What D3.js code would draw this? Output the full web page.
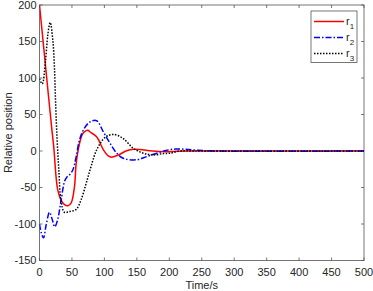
<!DOCTYPE html>
<html>
<head>
<meta charset="utf-8">
<script src="https://cdn.jsdelivr.net/npm/d3@7"></script>
<style>
  body { margin: 0; background: #fff; }
  text { font-family: "Liberation Sans", Arial, sans-serif; fill: #262626; }
</style>
</head>
<body>
<div id="chart"></div>
<script>
// Values
const r1Time = [0, 5, 10, 15, 19, 22, 25.7, 28, 33, 38.5, 43.7, 48.8, 54, 56.5, 61.6, 66.7, 72, 74.5, 78, 88, 98.5, 106, 111, 121.6, 134.4, 144.6, 155, 170, 196, 230, 300, 500];
const r1Value = [200, 155, 110, 65, 30, 5, -37, -53, -67, -73.5, -75, -71, -48, -17, 10, 24, 28, 28.5, 26, 19.5, 1.5, -6.8, -8.6, -5.4, 0.4, 2.3, 2, 0.4, -0.9, 0, 0, 0];

const r2Time = [0, 3, 6.2, 10.3, 15.4, 20, 23.5, 28, 33, 38.5, 42, 46, 51.3, 56.5, 61.6, 69, 78, 88, 98.5, 108.8, 119, 129, 150, 165, 180.6, 196, 210, 225, 245, 270, 500];
const r2Value = [-100, -113, -119, -101, -84, -95, -104, -94, -69, -42, -36, -33, -26, -8, 15, 31, 40, 41.5, 26, 10.5, -3, -10, -12, -7.7, -3, 1, 2.7, 2.3, 1, 0, 0];

const r3Time = [0, 4.2, 9.3, 12.9, 16.5, 20.6, 23, 24.7, 27, 29.8, 33, 38.5, 46, 56.5, 64, 72, 79.5, 88, 101, 114, 129, 144.6, 160, 175, 191, 201, 216, 240, 500];
const r3Value = [99, 92, 124, 160, 176, 151, 115, 69, 18, -26, -67, -84, -83, -80, -67, -44, -21, 1.4, 18.6, 22.7, 17, 3.6, -3, -5.4, -3.5, -3, 0, 0, 0];

const xTicks = [0, 50, 100, 150, 200, 250, 300, 350, 400, 450, 500];
const yTicks = [-150, -100, -50, 0, 50, 100, 150, 200];
const seriesNames = ["1", "2", "3"];

const width = 373, height = 291;
const margin = { top: 5, right: 9, bottom: 30.5, left: 39.5 };
const plotW = width - margin.left - margin.right;
const plotH = height - margin.top - margin.bottom;

const svg = d3.select("#chart").append("svg")
  .attr("width", width)
  .attr("height", height);

const g = svg.append("g")
  .attr("transform", `translate(${margin.left},${margin.top})`);

const x = d3.scaleLinear().domain([0, 500]).range([0, plotW]);
const y = d3.scaleLinear().domain([-150, 200]).range([plotH, 0]);

// clip
svg.append("defs").append("clipPath").attr("id", "clip")
  .append("rect").attr("width", plotW).attr("height", plotH);

// axes box
g.append("rect")
  .attr("width", plotW).attr("height", plotH)
  .attr("fill", "none").attr("stroke", "#555").attr("stroke-width", 0.8);

const tickLen = 3;
// x ticks (bottom and top, inward)
xTicks.forEach(t => {
  g.append("line").attr("x1", x(t)).attr("x2", x(t)).attr("y1", plotH).attr("y2", plotH - tickLen)
    .attr("stroke", "#555").attr("stroke-width", 0.8);
  g.append("line").attr("x1", x(t)).attr("x2", x(t)).attr("y1", 0).attr("y2", tickLen)
    .attr("stroke", "#555").attr("stroke-width", 0.8);
  g.append("text").attr("x", x(t)).attr("y", plotH + 15.5)
    .attr("text-anchor", "middle").style("font-size", "11px").text(t);
});

yTicks.forEach(t => {
  g.append("line").attr("x1", 0).attr("x2", tickLen).attr("y1", y(t)).attr("y2", y(t))
    .attr("stroke", "#555").attr("stroke-width", 0.8);
  g.append("line").attr("x1", plotW).attr("x2", plotW - tickLen).attr("y1", y(t)).attr("y2", y(t))
    .attr("stroke", "#555").attr("stroke-width", 0.8);
  g.append("text").attr("x", -3).attr("y", y(t)).attr("dy", "0.36em")
    .attr("text-anchor", "end").style("font-size", "11px").text(t);
});

// axis labels
svg.append("text")
  .attr("x", margin.left + plotW / 2).attr("y", 289)
  .attr("text-anchor", "middle").style("font-size", "11px").text("Time/s");

svg.append("text")
  .attr("transform", `translate(12,${margin.top + plotH / 2}) rotate(-90)`)
  .attr("text-anchor", "middle").style("font-size", "11px").text("Relative position");

// series
const series = [
  { name: seriesNames[0], t: r1Time, v: r1Value, color: "#ff0000", dash: null },
  { name: seriesNames[1], t: r2Time, v: r2Value, color: "#0000ff", dash: "6,2,1.5,2" },
  { name: seriesNames[2], t: r3Time, v: r3Value, color: "#000000", dash: "1.5,1.5" }
];

const line = d3.line()
  .x(d => x(d[0]))
  .y(d => y(d[1]))
  .curve(d3.curveCatmullRom.alpha(0.5));

const plot = g.append("g").attr("clip-path", "url(#clip)");

series.forEach(s => {
  plot.append("path")
    .datum(s.t.map((t, i) => [t, s.v[i]]))
    .attr("d", line)
    .attr("fill", "none")
    .attr("stroke", s.color)
    .attr("stroke-width", 1.5)
    .attr("stroke-dasharray", s.dash);
});

// legend
const legend = svg.append("g").attr("transform", "translate(311,11)");
legend.append("rect")
  .attr("width", 46).attr("height", 51.5)
  .attr("fill", "#fff").attr("stroke", "#555").attr("stroke-width", 0.8);

series.forEach((s, i) => {
  const ly = 10.5 + i * 16;
  legend.append("line")
    .attr("x1", 3).attr("x2", 33).attr("y1", ly).attr("y2", ly)
    .attr("stroke", s.color).attr("stroke-width", 1.5)
    .attr("stroke-dasharray", s.dash);
  const txt = legend.append("text")
    .attr("x", 35).attr("y", ly + 3.5)
    .style("font-size", "11px");
  txt.append("tspan").text("r");
  txt.append("tspan").attr("dy", 3.5).style("font-size", "8px").text(s.name);
});
</script>
</body>
</html>
